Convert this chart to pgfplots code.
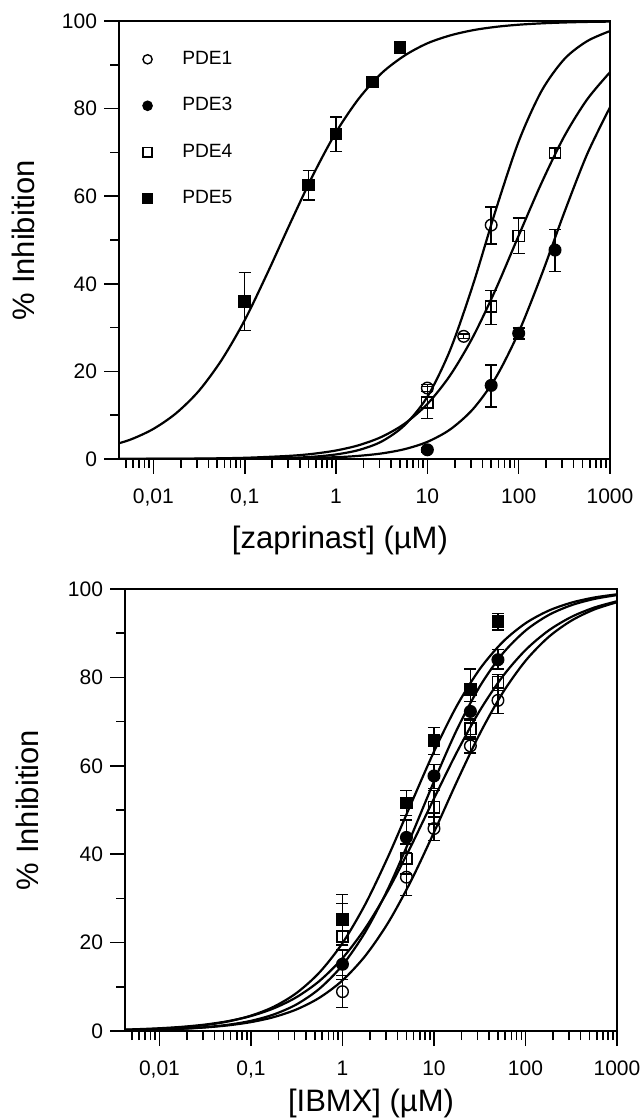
\documentclass[border=0pt]{standalone}
\usepackage{fontspec}
\setmainfont{Liberation Sans}
\usepackage{pgfplots}
\usepackage{pgfplotstable}
\pgfplotsset{compat=1.18}

% ---------- top panel: zaprinast ----------
\pgfplotstableread{
x y ep em
10 16.2 0.8 0.8
25 28.0 0.5 0.5
50 53.4 4.1 4.3
}\zaPDEone
\pgfplotstableread{
x y ep em
10 2.1 0.5 0.5
50 16.8 4.7 4.9
100 28.7 1.2 1.3
250 47.7 4.7 4.9
}\zaPDEthree
\pgfplotstableread{
x y ep em
10 12.9 3.7 3.7
50 34.8 3.6 4.1
100 50.9 4.1 4.0
250 69.9 1.0 1.0
}\zaPDEfour
\pgfplotstableread{
x y ep em
0.1 36.0 6.6 6.7
0.5 62.6 3.2 3.5
1 74.2 3.9 4.0
2.5 86.1 0.8 0.8
5 94.0 1.0 1.0
}\zaPDEfive
% fitted curves
\pgfplotstableread{
x y
0.003162 0.001
0.01 0.004
0.03162 0.017
0.1 0.066
0.3162 0.26
0.5623 0.52
1 1.04
1.778 2.05
3.162 4.0
5.623 7.7
10 14.2
17.78 24.9
31.62 39.8
56.23 56.9
100 72.5
177.8 84.0
316.2 91.3
562.3 95.4
1000 97.7
}\zaCone
\pgfplotstableread{
x y
0.003162 0.001
0.01 0.004
0.03162 0.013
0.1 0.041
0.3162 0.13
1 0.41
1.778 0.72
3.162 1.27
5.623 2.24
10 3.91
17.78 6.75
31.62 11.4
56.23 18.6
100 28.95
177.8 42.0
316.2 56.3
562.3 69.6
1000 80.3
}\zaCthree
\pgfplotstableread{
x y
0.003162 0.014
0.01 0.038
0.03162 0.10
0.1 0.27
0.3162 0.73
0.5623 1.19
1 1.94
1.778 3.15
3.162 5.06
5.623 8.05
10 12.56
17.78 19.1
31.62 27.9
56.23 38.8
100 51.0
177.8 63.0
316.2 73.7
562.3 82.1
1000 88.3
}\zaCfour
\pgfplotstableread{
x y
0.003162 2.86
0.005623 4.44
0.01 6.87
0.01778 10.47
0.03162 15.6
0.05623 22.7
0.1 31.7
0.1778 42.5
0.3162 53.9
0.5623 64.9
1 74.6
1.778 82.3
3.162 88.1
5.623 92.1
10 94.9
17.78 96.7
31.62 97.9
56.23 98.66
100 99.15
177.8 99.46
316.2 99.66
562.3 99.79
1000 99.86
}\zaCfive

% ---------- bottom panel: IBMX ----------
\pgfplotstableread{
x y ep em
1 8.9 3.6 3.6
5 34.8 3.1 4.2
10 45.8 2.6 2.7
25 64.5 2.0 1.6
50 74.8 2.2 2.9
}\ibPDEone
\pgfplotstableread{
x y ep em
1 15.1 3.2 3.4
5 43.8 3.9 3.5
10 57.7 2.6 2.9
25 72.3 2.3 2.1
50 84.0 2.3 2.1
}\ibPDEthree
\pgfplotstableread{
x y ep em
1 21.4 7.5 2.0
5 38.9 3.4 3.4
10 50.6 3.8 3.8
25 68.4 2.2 2.3
50 78.9 1.7 1.9
}\ibPDEfour
\pgfplotstableread{
x y ep em
1 25.2 5.7 5.7
5 51.6 2.8 2.8
10 65.7 3.0 3.2
25 77.3 4.6 2.7
50 92.6 1.8 1.9
}\ibPDEfive
\pgfplotstableread{
x y
0.003162 0.129
0.005623 0.205
0.01 0.324
0.01778 0.512
0.03162 0.810
0.05623 1.277
0.1 2.01
0.1778 3.15
0.3162 4.90
0.5623 7.55
1 11.45
1.778 17.02
3.162 24.53
5.623 34.00
10 44.95
17.78 56.41
31.62 67.23
56.23 76.48
100 83.74
177.8 89.09
316.2 92.82
562.3 95.35
1000 97.01
}\ibCone
\pgfplotstableread{
x y
0.003162 0.117
0.005623 0.193
0.01 0.317
0.01778 0.523
0.03162 0.860
0.05623 1.41
0.1 2.30
0.1778 3.75
0.3162 6.04
0.5623 9.60
1 14.90
1.778 22.42
3.162 32.27
5.623 44.03
10 56.46
17.78 68.17
31.62 77.94
56.23 85.37
100 90.58
177.8 94.07
316.2 96.32
562.3 97.74
1000 98.62
}\ibCthree
\pgfplotstableread{
x y
0.003162 0.262
0.005623 0.403
0.01 0.620
0.01778 0.951
0.03162 1.458
0.05623 2.227
0.1 3.39
0.1778 5.13
0.3162 7.68
0.5623 11.35
1 16.47
1.778 23.29
3.162 31.87
5.623 41.88
10 52.59
17.78 63.07
31.62 72.46
56.23 80.20
100 86.18
177.8 90.57
316.2 93.67
562.3 95.79
1000 97.23
}\ibCfour
\pgfplotstableread{
x y
0.003162 0.197
0.005623 0.319
0.01 0.516
0.01778 0.834
0.03162 1.346
0.05623 2.16
0.1 3.47
0.1778 5.50
0.3162 8.63
0.5623 13.28
1 19.89
1.778 28.71
3.162 39.51
5.623 51.43
10 63.21
17.78 73.58
31.62 81.88
56.23 87.99
100 92.24
177.8 95.07
316.2 96.90
562.3 98.07
1000 98.80
}\ibCfive

\newcommand{\minorlist}{0.005,0.006,0.007,0.008,0.009,0.02,0.03,0.04,0.05,0.06,0.07,0.08,0.09,0.2,0.3,0.4,0.5,0.6,0.7,0.8,0.9,2,3,4,5,6,7,8,9,20,30,40,50,60,70,80,90,200,300,400,500,600,700,800,900}

\begin{document}
\begin{tikzpicture}
\useasboundingbox (0,0) rectangle (321.5bp,559bp);

% ===== top panel =====
\begin{axis}[
  at={(59.5bp,329.5bp)}, anchor=south west,
  scale only axis, width=245.5bp, height=219bp,
  xmode=log, xmin=0.0042, xmax=1000, ymin=0, ymax=100,
  axis line style={line width=1bp},
  tick align=outside, tick pos=left,
  xtick={0.01,0.1,1,10,100,1000},
  xticklabels={{0,01},{0,1},1,10,100,1000},
  minor xtick/.expanded={\minorlist},
  ytick={0,20,40,60,80,100},
  yticklabels={0,20,40,60,80,100},
  minor ytick={10,30,50,70,90},
  major tick length=7.5bp, minor tick length=4.5bp,
  tick style={line width=0.8bp, black},
  tick label style={font=\fontsize{10.5bp}{12bp}\selectfont},
  xticklabel style={yshift=-4bp},
  label style={font=\fontsize{15.5bp}{18bp}\selectfont},
  xlabel={[zaprinast] (µM)}, ylabel={\% Inhibition},
  xlabel style={at={(axis description cs:0.45,-0.185)}, anchor=center},
  ylabel style={at={(axis description cs:-0.1955,0.5)}, anchor=center},
  legend style={draw=none, fill=none, at={(axis description cs:0.048,0.941)},
    anchor=north west, row sep=11.1bp, inner sep=0pt,
    font=\fontsize{9.6bp}{11bp}\selectfont},
  legend cell align=left,
  legend image code/.code={\draw[#1, mark size=2.3bp] plot coordinates {(0bp,0bp)};
    \path (0bp,0bp) (15bp,0bp);},
]
\addplot[black, line width=1.1bp, smooth, no marks, forget plot] table {\zaCone};
\addplot[black, line width=1.1bp, smooth, no marks, forget plot] table {\zaCthree};
\addplot[black, line width=1.1bp, smooth, no marks, forget plot] table {\zaCfour};
\addplot[black, line width=1.1bp, smooth, no marks, forget plot] table {\zaCfive};
\addplot[black, only marks, line width=0.7bp, mark=o, mark size=2.9bp, mark options={fill=white},
  error bars/.cd, y dir=both, y explicit, error bar style={line width=0.7bp},
  error mark options={mark size=3bp, line width=0.7bp, rotate=90}]
  table[y error plus=ep, y error minus=em] {\zaPDEone};
\addlegendentry{PDE1}
\addplot[black, only marks, line width=0.7bp, mark=*, mark size=2.9bp,
  error bars/.cd, y dir=both, y explicit, error bar style={line width=0.7bp},
  error mark options={mark size=3bp, line width=0.7bp, rotate=90}]
  table[y error plus=ep, y error minus=em] {\zaPDEthree};
\addlegendentry{PDE3}
\addplot[black, only marks, line width=0.7bp, mark=square, mark size=2.8bp, mark options={fill=white},
  error bars/.cd, y dir=both, y explicit, error bar style={line width=0.7bp},
  error mark options={mark size=3bp, line width=0.7bp, rotate=90}]
  table[y error plus=ep, y error minus=em] {\zaPDEfour};
\addlegendentry{PDE4}
\addplot[black, only marks, line width=0.7bp, mark=square*, mark size=2.8bp,
  error bars/.cd, y dir=both, y explicit, error bar style={line width=0.7bp},
  error mark options={mark size=3bp, line width=0.7bp, rotate=90}]
  table[y error plus=ep, y error minus=em] {\zaPDEfive};
\addlegendentry{PDE5}
\end{axis}

% ===== bottom panel =====
\begin{axis}[
  at={(62.5bp,43.5bp)}, anchor=south west,
  scale only axis, width=246bp, height=221bp,
  xmode=log, xmin=0.0042, xmax=1000, ymin=0, ymax=100,
  axis line style={line width=1bp},
  tick align=outside, tick pos=left,
  xtick={0.01,0.1,1,10,100,1000},
  xticklabels={{0,01},{0,1},1,10,100,1000},
  minor xtick/.expanded={\minorlist},
  ytick={0,20,40,60,80,100},
  yticklabels={0,20,40,60,80,100},
  minor ytick={10,30,50,70,90},
  major tick length=7.5bp, minor tick length=4.5bp,
  tick style={line width=0.8bp, black},
  tick label style={font=\fontsize{10.5bp}{12bp}\selectfont},
  xticklabel style={yshift=-4bp},
  label style={font=\fontsize{15.5bp}{18bp}\selectfont},
  xlabel={[IBMX] (µM)}, ylabel={\% Inhibition},
  xlabel style={at={(axis description cs:0.5,-0.165)}, anchor=center},
  ylabel style={at={(axis description cs:-0.198,0.5)}, anchor=center},
]
\addplot[black, line width=1.1bp, smooth, no marks] table {\ibCone};
\addplot[black, line width=1.1bp, smooth, no marks] table {\ibCthree};
\addplot[black, line width=1.1bp, smooth, no marks] table {\ibCfour};
\addplot[black, line width=1.1bp, smooth, no marks] table {\ibCfive};
\addplot[black, only marks, line width=0.7bp, mark=o, mark size=2.9bp, mark options={fill=white},
  error bars/.cd, y dir=both, y explicit, error bar style={line width=0.7bp},
  error mark options={mark size=3bp, line width=0.7bp, rotate=90}]
  table[y error plus=ep, y error minus=em] {\ibPDEone};
\addplot[black, only marks, line width=0.7bp, mark=*, mark size=2.9bp,
  error bars/.cd, y dir=both, y explicit, error bar style={line width=0.7bp},
  error mark options={mark size=3bp, line width=0.7bp, rotate=90}]
  table[y error plus=ep, y error minus=em] {\ibPDEthree};
\addplot[black, only marks, line width=0.7bp, mark=square, mark size=2.8bp, mark options={fill=white},
  error bars/.cd, y dir=both, y explicit, error bar style={line width=0.7bp},
  error mark options={mark size=3bp, line width=0.7bp, rotate=90}]
  table[y error plus=ep, y error minus=em] {\ibPDEfour};
\addplot[black, only marks, line width=0.7bp, mark=square*, mark size=2.8bp,
  error bars/.cd, y dir=both, y explicit, error bar style={line width=0.7bp},
  error mark options={mark size=3bp, line width=0.7bp, rotate=90}]
  table[y error plus=ep, y error minus=em] {\ibPDEfive};
\end{axis}
\end{tikzpicture}
\end{document}
